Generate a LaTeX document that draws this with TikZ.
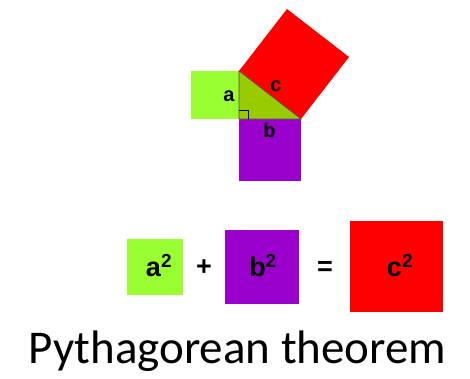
\documentclass[tikz,border=0pt]{standalone}
\usepackage{fontspec}
\setmainfont{Liberation Sans}
\newfontfamily\titlefont{Carlito}
\definecolor{sqgreen}{HTML}{99FF33}
\definecolor{trigreen}{HTML}{99CC00}
\definecolor{sqpurple}{HTML}{9900CC}
\definecolor{sqred}{HTML}{FF0000}
\begin{document}
\begin{tikzpicture}[x=1pt,y=-1pt,
  toplbl/.style={font=\fontsize{20}{22}\selectfont\bfseries, inner sep=0pt},
  botlbl/.style={font=\fontsize{27}{30}\selectfont\bfseries, inner sep=0pt}]
\useasboundingbox (0,0) rectangle (470,378);
% top figure
\coordinate (A) at (239,71);
\coordinate (C) at (239,119);
\coordinate (B) at (301,119);
\fill[sqgreen] (191,71) rectangle (239,119);
\fill[sqpurple] (239,119) rectangle (301,181);
\fill[sqred] (A) -- (287,9) -- (349,57) -- (B) -- cycle;
\fill[trigreen] (A) -- (C) -- (B) -- cycle;
\draw[black!70, line width=0.6pt] (A) -- (C) -- (B) -- cycle;
\draw[black, line width=0.6pt] (239,110) -- (248,110) -- (248,119);
\node[toplbl] (la) at (229,96.5) {a};
\node[toplbl] (lc) at (276,86.5) {c};
\node[toplbl] (lb) at (269.5,130.5) {b};
% bottom equation
\fill[sqgreen] (127,239) rectangle (183,295);
\fill[sqpurple] (225,230) rectangle (299,304);
\fill[sqred] (350,221) rectangle (443,312);
\node[botlbl] (a2) at (159,266) {a\textsuperscript{2}};
\node[botlbl] (plus) at (204,268) {+};
\node[botlbl] (b2) at (263,266) {b\textsuperscript{2}};
\node[botlbl] (eq) at (325,268) {=};
\node[botlbl] (c2) at (400,266) {c\textsuperscript{2}};
% title
\node[font=\titlefont\fontsize{47}{50}\selectfont, anchor=base, inner sep=0pt] (title) at (237.5,363) {Pythagorean theorem};
\end{tikzpicture}
\end{document}
